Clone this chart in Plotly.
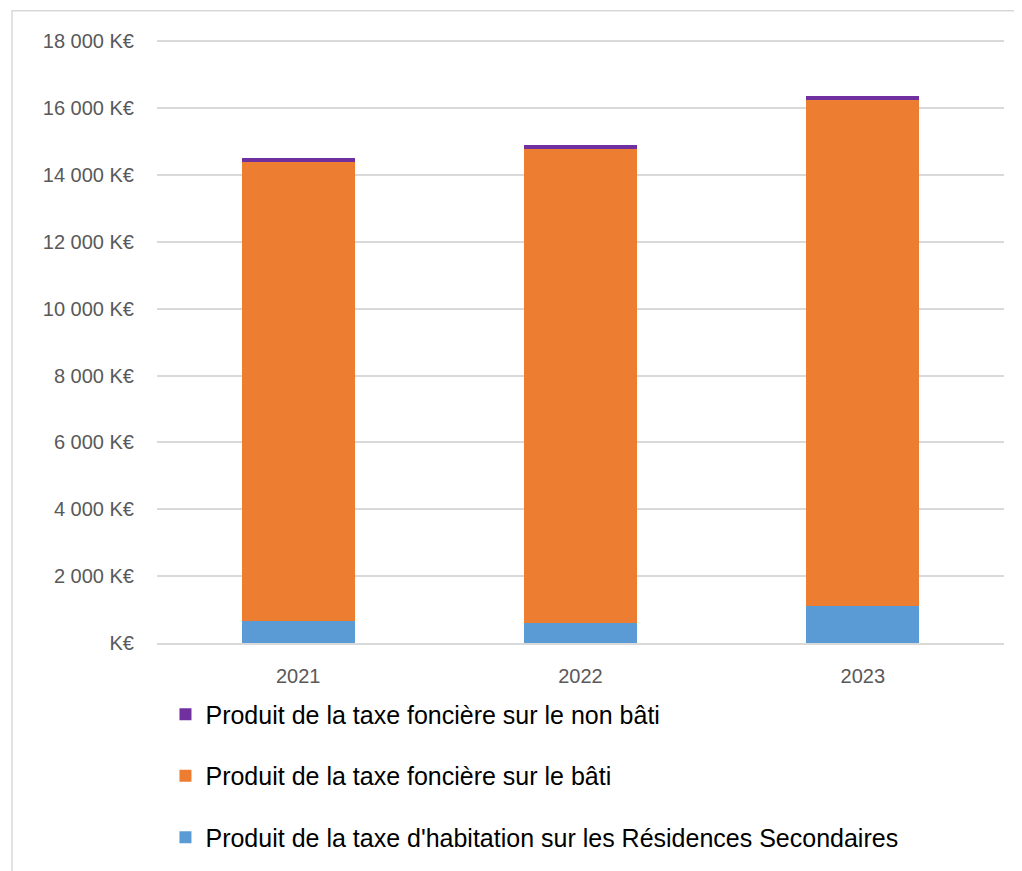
import plotly.graph_objects as go

years = ["2021", "2022", "2023"]
th_residences_secondaires = [650, 590, 1106]
tf_bati = [13750, 14190, 15140]
tf_non_bati = [120, 130, 130]

names = [
    "Produit de la taxe d'habitation sur les Résidences Secondaires",
    "Produit de la taxe foncière sur le bâti",
    "Produit de la taxe foncière sur le non bâti",
]
colors = ["#5B9BD5", "#ED7D31", "#7030A0"]
ranks = [3, 2, 1]
series = [th_residences_secondaires, tf_bati, tf_non_bati]

tick_vals = list(range(0, 18001, 2000))
tick_text = ["K€" if v == 0 else f"{v // 1000} 000 K€" for v in tick_vals]

font_family = "Liberation Sans, Arial"

fig = go.Figure()
for i, (name, vals, col, rk) in enumerate(zip(names, series, colors, ranks)):
    fig.add_trace(go.Bar(
        x=years, y=vals, name=name, marker_color=col,
        marker_line_width=0, legendgroup=f"g{i}", legendrank=rk,
    ))

fig.update_layout(
    width=1022, height=871,
    barmode="stack", bargap=0.6,
    paper_bgcolor="white", plot_bgcolor="white",
    margin=dict(l=149, r=26, t=30, b=236, autoexpand=False),
    font=dict(family=font_family, color="#595959", size=21),
    yaxis=dict(
        range=[0, 18100], tickvals=tick_vals, ticktext=tick_text,
        showgrid=True, gridcolor="#D9D9D9", gridwidth=1.5,
        zeroline=False, showline=False, ticks="", ticklabelstandoff=22,
        tickfont=dict(size=20, color="#595959"),
    ),
    xaxis=dict(
        showline=True, linecolor="#D9D9D9", linewidth=1.5,
        ticks="", ticklabelstandoff=14, tickfont=dict(size=20, color="#595959"),
    ),
    legend=dict(
        orientation="v", x=0.01, xanchor="left", y=-0.08, yanchor="top",
        traceorder="grouped", tracegroupgap=26,
        font=dict(size=25, color="#000000", family=font_family),
        bgcolor="rgba(0,0,0,0)",
    ),
    shapes=[dict(
        type="rect", xref="paper", yref="paper",
        x0=-0.1712, x1=1.2, y0=-0.6, y1=1.0451,
        line=dict(color="#D9D9D9", width=1.5), fillcolor="rgba(0,0,0,0)",
        layer="below",
    )],
)

fig.write_html("out.html")
